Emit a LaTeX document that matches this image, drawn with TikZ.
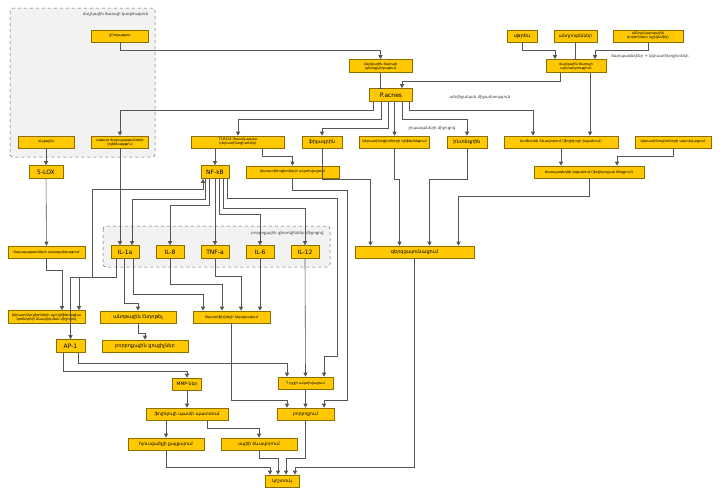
\documentclass[tikz,border=0pt]{standalone}
\usepackage{fontspec}
\setmainfont{DejaVu Sans}
\usepackage{tikz}
\usetikzlibrary{arrows.meta}
\definecolor{boxfill}{HTML}{FFC800}
\definecolor{boxline}{HTML}{8A6F00}
\definecolor{wire}{HTML}{555555}
\tikzset{
  box/.style={draw=boxline, fill=boxfill, line width=0.6pt, inner sep=0pt, minimum height=12pt, align=center, font=\fontsize{3.6}{4}\selectfont},
  big/.style={box, minimum height=13pt, font=\fontsize{6}{7}\selectfont},
  lbl/.style={font=\fontsize{4}{5}\selectfont, text=black!80},
  arr/.style={draw=wire, line width=0.6pt, -{Triangle[length=4pt,width=4pt]}},
  blk/.style={draw=wire, line width=0.6pt, -{Bar[width=5pt]}},
  grp/.style={draw=black!60, dashed, rounded corners=3pt, fill=black!5, line width=0.5pt},
}
\begin{document}
\begin{tikzpicture}[x=1pt, y=-1pt]
    \useasboundingbox (0,0) rectangle (720,496);
    \draw[grp] (10,8) rectangle (155,157);
    \node[lbl, anchor=east] (grpsebum) at (152,14) {մաշկային ճարպի կազմություն};
    \draw[grp] (103,226) rectangle (330,267);
    \node[lbl, anchor=east] (grpcyto) at (327,233) {բորբոքային ցիտոկիններ միջոցով};
    \node[box, minimum width=57pt] (linol) at (120,36) {լինոլաթթու};
    \node[box, minimum width=56pt] (squal) at (46,142) {սկվալեն};
    \node[box, minimum width=57pt] (ffa) at (120,142) {ազատ ճարպաթթուների\\(օլեինաթթու)};
    \node[big, minimum width=34pt] (lox) at (46,172) {5-LOX};
    \node[box, minimum width=93pt] (tlr) at (238,142) {TLR2/4 (հատկապես\\կերատինոցիտներ)};
    \node[box, minimum width=93pt] (kact1) at (292.5,172) {կերատինոցիտների ակտիվացում};
    \node[box, minimum width=40pt, font=\fontsize{5}{6}\selectfont] (filag) at (322,142) {ֆիլագրին};
    \node[box, minimum width=70pt] (kdif) at (394.5,142) {կերատինոցիտների դիֆերենցում};
    \node[box, minimum width=40pt, font=\fontsize{5}{6}\selectfont] (integ) at (467,142) {ինտեգրին};
    \node[box, minimum width=114pt] (comed) at (561,142) {կոմեդոնի ձևավորում (ֆոլիկուլի խցանում)};
    \node[box, minimum width=76pt] (kact2) at (673,142) {կերատինոցիտների ակտիվացում};
    \node[box, minimum width=110pt] (plug) at (589,172) {ճարպագեղձի խցանում (ֆոլիկուլյար ճեղքում)};
    \node[box, minimum width=30pt, font=\fontsize{5}{6}\selectfont] (stress) at (522,36) {սթրես};
    \node[box, minimum width=43pt, font=\fontsize{4.5}{5}\selectfont] (andr) at (575.5,36) {անդրոգեններ};
    \node[box, minimum width=70pt] (diet) at (648,36) {սննդակարգային\\գործոններ (գլիկեմիկ)};
    \node[box, minimum width=60pt, minimum height=13pt] (sebprod) at (576,66) {մաշկային ճարպի\\արտադրություն};
    \node[box, minimum width=63pt, minimum height=13pt] (ox) at (380.5,66) {մաշկային ճարպի\\պերօքսիդացում};
    \node[big, minimum width=43pt] (pac) at (391,95) {P.acnes};
    \node[lbl] (lbldirect) at (480,97) {անմիջական միջամտություն};
    \node[lbl] (lbllipase) at (432,128) {լիպազաների միջոցով};
    \node[lbl] (lblglands) at (650,56) {ճարպագեղձեր + կերատինոցիտներ};
    \node[big, minimum width=28pt] (nfkb) at (215,172) {NF-kB};
    \node[box, minimum width=77pt] (sebperox) at (46.5,252) {ճարպաթթուների պերօքսիդացում};
    \node[big, minimum width=28pt] (il1a) at (125,252) {IL-1a};
    \node[big, minimum width=28pt] (il8) at (170,252) {IL-8};
    \node[big, minimum width=28pt] (tnf) at (215,252) {TNF-a};
    \node[big, minimum width=28pt] (il6) at (260,252) {IL-6};
    \node[big, minimum width=28pt] (il12) at (305,252) {IL-12};
    \node[box, minimum width=119pt, font=\fontsize{5}{6}\selectfont] (sens) at (414.5,252) {գերզգայունացում};
    \node[box, minimum width=77pt, minimum height=13pt] (prolif) at (46.5,317) {կերատինոցիտների պրոլիֆերացիա\\կոմեդոնի ձևավորման միջոցով};
    \node[box, minimum width=76pt, font=\fontsize{5}{6}\selectfont] (endo) at (138,317) {անոթային էնդոթել};
    \node[box, minimum width=77pt] (neut) at (231.5,317) {նեյտրոֆիլների ներգրավում};
    \node[big, minimum width=29pt] (ap1) at (70.5,346) {AP-1};
    \node[box, minimum width=86pt, font=\fontsize{5}{6}\selectfont] (marker) at (145,346) {բորբոքային ցուցիչներ};
    \node[box, minimum width=55pt] (tcell) at (305.5,383) {T բջջի ակտիվացում};
    \node[box, minimum width=29pt, font=\fontsize{4.5}{5}\selectfont] (mmp) at (187,384) {MMP-ներ};
    \node[box, minimum width=82pt, font=\fontsize{4.5}{5}\selectfont] (rupt) at (187,414) {ֆոլիկուլի պատի պատռում};
    \node[box, minimum width=57pt, font=\fontsize{4.5}{5}\selectfont] (infl) at (305.5,414) {բորբոքում};
    \node[box, minimum width=76pt, font=\fontsize{4.5}{5}\selectfont] (tissue) at (166,444) {հյուսվածքի քայքայում};
    \node[box, minimum width=76pt, font=\fontsize{4.5}{5}\selectfont] (scar) at (259,444) {սպիի ձևավորում};
    \node[box, minimum width=34pt, font=\fontsize{4.5}{5}\selectfont] (final) at (282,481) {կոշտուկ};
    % top: sebum sources
    \draw[arr] (linol.south) -- ++(0,8) -| (ox.north);
    \draw[blk] (ox.south) -- (ox.south |- pac.north);
    \draw[arr] ([xshift=-16pt]sebprod.south) -- ++(0,8) -| ([xshift=11pt]pac.north);
    \draw[arr] (stress.south) -- ++(0,8) -| ([xshift=-21pt]sebprod.north);
    \draw[blk] (andr.south) -- (andr.south |- sebprod.north);
    \draw[arr] (diet.south) -- ++(0,8) -| ([xshift=19pt]sebprod.north);
    \draw[arr] ([xshift=14pt]sebprod.south) -- ([xshift=14pt]sebprod.south |- comed.north);
    % P.acnes outputs
    \draw[arr] ([xshift=-18pt]pac.south) -- ++(0,8) -| (ffa.north);
    \draw[arr] ([xshift=-10pt]pac.south) -- ++(0,17) -| (tlr.north);
    \draw[arr] ([xshift=-3pt]pac.south) -- ++(0,26) -| (filag.north);
    \draw[arr] (kdif.north |- pac.south) -- (kdif.north);
    \draw[arr] ([xshift=11pt]pac.south) -- ++(0,17) -| (integ.north);
    \draw[arr] ([xshift=18pt]pac.south) -- ++(0,8) -| ([xshift=-28pt]comed.north);
    % follicle
    \draw[arr] (comed.south) -- (comed.south |- plug.north);
    \draw[arr] (kact2.south) -- ++(0,8) -| ([xshift=28pt]plug.north);
    \draw[arr] (plug.south) -- ++(0,18) -| ([xshift=44pt]sens.north);
    \draw[arr] (filag.south) -- ++(0,31) -| ([xshift=-44pt]sens.north);
    \draw[arr] (kdif.south) -- ++(0,31) -| ([xshift=-15pt]sens.north);
    \draw[arr] (integ.south) -- ++(0,31) -| ([xshift=15pt]sens.north);
    \draw[arr] (sens.south) -- ++(0,209) -| ([xshift=13pt]final.north);
    % lipid path
    \draw[arr] (squal) -- (lox);
    \draw[arr] (lox) -- (sebperox);
    \draw[arr] (sebperox.south) -- ++(0,12) -| ([xshift=15.5pt]prolif.north);
    \draw[arr] (ffa.south) -- (ffa.south |- il1a.north);
    % NF-kB
    \draw[arr] ([xshift=-23pt]tlr.south) -- (nfkb.north);
    \draw[arr] ([xshift=24pt]tlr.south) -- ++(0,8) -| (kact1.north);
    \draw[arr] (kact1.south) -- ++(0,12) -- ++(55,0) -- ++(0,210) -| ([xshift=18.5pt]infl.north);
    \draw[draw=wire, line width=0.6pt, {Triangle[length=4pt,width=4pt]}-{Triangle[length=4pt,width=4pt]}] (ap1.north) -- ++(0,-62) -- ++(22,0) -- ++(0,-88) -| ([xshift=-12pt]nfkb.south);
    \draw[arr] ([xshift=-10pt]nfkb.south) -- ++(0,20) -| ([xshift=7pt]il1a.north);
    \draw[arr] ([xshift=-6pt]nfkb.south) -- ++(0,26) -| (il8.north);
    \draw[arr] (nfkb.south) -- (tnf.north);
    \draw[arr] ([xshift=4pt]nfkb.south) -- ++(0,35) -| (il6.north);
    \draw[arr] ([xshift=8pt]nfkb.south) -- ++(0,29) -| (il12.north);
    \draw[arr] ([xshift=12pt]nfkb.south) -- ++(0,19) -- ++(110,0) -- ++(0,158) -| ([xshift=18.5pt]tcell.north);
    % cytokines
    \draw[arr] ([xshift=-9pt]il1a.south) -- ++(0,18) -| ([xshift=32.5pt]prolif.north);
    \draw[arr] ([xshift=-1pt]il1a.south) -- ++(0,44) -| (endo.north);
    \draw[arr] ([xshift=8pt]il1a.south) -- ++(0,35) -| ([xshift=-28.5pt]neut.north);
    \draw[arr] (il8.south) -- ++(0,25) -| ([xshift=-9.5pt]neut.north);
    \draw[arr] (tnf.south) -- ++(0,17) -| ([xshift=9.5pt]neut.north);
    \draw[arr] (il6.south) -- (il6.south |- neut.north);
    \draw[arr] (il12.south) -- (tcell.north);
    \draw[arr] (endo.south) -- ++(0,10) -| (marker.north);
    \draw[arr] (neut.south) -- ++(0,77) -| ([xshift=-18.5pt]infl.north);
    % outcomes
    \draw[arr] ([xshift=8pt]ap1.south) -- ++(0,10) -| ([xshift=-18.5pt]tcell.north);
    \draw[arr] ([xshift=-7pt]ap1.south) -- ++(0,18) -| (mmp.north);
    \draw[arr] (mmp) -- (rupt);
    \draw[arr] ([xshift=-21pt]rupt.south) -- (tissue.north);
    \draw[arr] ([xshift=20pt]rupt.south) -- ++(0,8) -| (scar.north);
    \draw[arr] (tcell) -- (infl);
    \draw[arr] (tissue.south) -- ++(0,17) -| ([xshift=-12pt]final.north);
    \draw[arr] (scar.south) -- ++(0,8) -| ([xshift=-4pt]final.north);
    \draw[arr] (infl.south) -- ++(0,38) -| ([xshift=4pt]final.north);
  \end{tikzpicture}
\end{document}
